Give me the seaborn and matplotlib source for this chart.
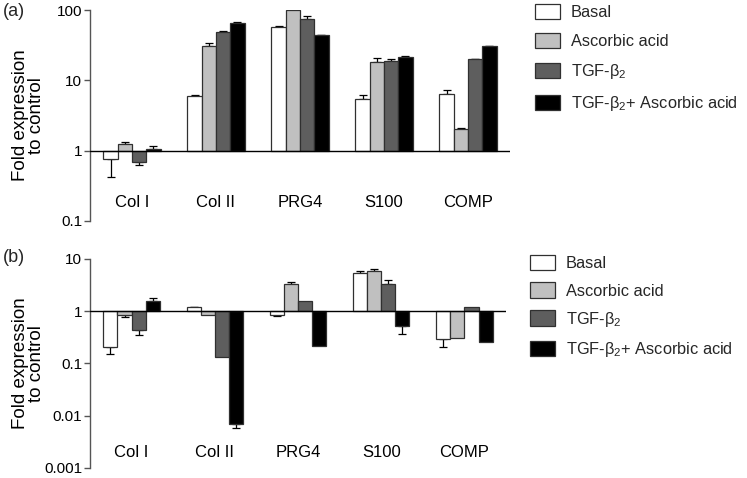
import numpy as np
import pandas as pd
import matplotlib
matplotlib.use("Agg")
import matplotlib.pyplot as plt
import matplotlib.patches as mpatches
import seaborn as sns

# ---------------- data (fold expression to control) ----------------
categories = ["Col I", "Col II", "PRG4", "S100", "COMP"]
treatments = ["Basal", "Ascorbic acid", "TGF-β$_2$", "TGF-β$_2$+ Ascorbic acid"]

# panel (a)
basal_a = [0.77, 5.9, 56.5, 5.4, 6.3]
ascorbic_a = [1.23, 30.3, 98.6, 18.4, 2.02]
tgf_a = [0.70, 48.6, 74.5, 19.1, 19.8]
combo_a = [1.07, 65.0, 43.5, 21.4, 30.3]
# error-bar end points (a)
basal_a_err = [0.42, 6.2, 60.0, 6.1, 7.2]
ascorbic_a_err = [1.34, 33.8, 99.5, 20.5, 2.1]
tgf_a_err = [0.63, 50.0, 82.0, 20.2, 20.0]
combo_a_err = [1.17, 67.0, 44.8, 21.9, 30.8]

# panel (b)
basal_b = [0.207, 1.18, 0.86, 5.3, 0.29]
ascorbic_b = [0.84, 0.83, 3.33, 6.0, 0.30]
tgf_b = [0.43, 0.133, 1.57, 3.25, 1.19]
combo_b = [1.58, 0.0068, 0.214, 0.51, 0.26]
# error-bar end points (b)
basal_b_err = [0.148, 1.19, 0.80, 5.9, 0.21]
ascorbic_b_err = [0.76, 0.83, 3.65, 6.3, 0.30]
tgf_b_err = [0.35, 0.133, 1.57, 3.98, 1.19]
combo_b_err = [1.80, 0.0057, 0.214, 0.36, 0.26]

ticks_a = [0.1, 1, 10, 100]
tick_labels_a = ["0.1", "1", "10", "100"]
ticks_b = [0.001, 0.01, 0.1, 1, 10]
tick_labels_b = ["0.001", "0.01", "0.1", "1", "10"]

ylabel = "Fold expression\nto control"
panel_labels = ["(a)", "(b)"]

# ---------------- style ----------------
sns.set_theme(style="ticks")
plt.rcParams["font.family"] = ["Liberation Sans", "DejaVu Sans"]
plt.rcParams["mathtext.fontset"] = "custom"
plt.rcParams["mathtext.rm"] = "Liberation Sans"
plt.rcParams["mathtext.it"] = "Liberation Sans:italic"
plt.rcParams["mathtext.bf"] = "Liberation Sans:bold"

colors = ["#ffffff", "#c0c0c0", "#5e5e5e", "#000000"]
edge = "#303030"
spine_col = "#555555"

W, H = 747, 478
fig = plt.figure(figsize=(W / 100, H / 100), dpi=100)
ax_a = fig.add_axes([90 / W, 1 - 221 / H, 420 / W, 211 / H])
ax_b = fig.add_axes([90 / W, 1 - 467.7 / H, 416 / W, 208.7 / H])


def draw(ax, values, errs, ticks, tick_labels, xpad, legend_xy, labelspacing):
    rows = []
    for t, vals in zip(treatments, values):
        for c, v in zip(categories, vals):
            rows.append({"gene": c, "treatment": t, "log_fold": np.log10(v)})
    df = pd.DataFrame(rows)
    sns.barplot(data=df, x="gene", y="log_fold", hue="treatment",
                order=categories, hue_order=treatments, palette=colors,
                saturation=1, width=0.68, gap=0, edgecolor=edge,
                linewidth=0.9, errorbar=None, legend=False, ax=ax, zorder=2)
    # one-sided error bars, pointing away from the baseline
    for cont, vals, es in zip(ax.containers, values, errs):
        for patch, v, e in zip(cont.patches, vals, es):
            xc = patch.get_x() + patch.get_width() / 2
            lv, le = np.log10(v), np.log10(e)
            up = max(le - lv, 0.0)
            lo = max(lv - le, 0.0)
            if up == 0 and lo == 0:
                continue
            ax.errorbar([xc], [lv], yerr=[[lo], [up]], fmt="none",
                        ecolor="black", elinewidth=0.9, capsize=3,
                        capthick=0.9, zorder=1)
    ax.axhline(0, color="black", lw=1.0, zorder=3)
    lt = np.log10(ticks)
    ax.set_ylim(lt[0], lt[-1])
    ax.set_yticks(lt, labels=tick_labels)
    ax.set_xlim(-0.5, len(categories) - 0.5)
    sns.despine(ax=ax, bottom=True)
    ax.spines["left"].set_color(spine_col)
    ax.spines["left"].set_linewidth(1.0)
    ax.tick_params(axis="y", direction="out", length=4, width=1.0,
                   color=spine_col, labelsize=11, pad=1.5, labelcolor="black")
    ax.tick_params(axis="x", length=0, labelsize=12, pad=xpad,
                   labelcolor="black")
    ax.set_xlabel("")
    ax.set_ylabel(ylabel, fontsize=13.5, linespacing=0.95, color="black")
    ax.yaxis.set_label_coords(-45 / (ax.get_position().width * W), 0.5)
    ax.set_facecolor("none")
    handles = [mpatches.Patch(facecolor=c, edgecolor=edge, linewidth=0.9)
               for c in colors]
    ax.legend(handles, treatments, loc="upper left",
              bbox_to_anchor=legend_xy, bbox_transform=fig.transFigure,
              frameon=False, fontsize=11.8, handlelength=1.5,
              handleheight=1.05, handletextpad=0.7,
              labelspacing=labelspacing, borderpad=0, borderaxespad=0)


draw(ax_a, [basal_a, ascorbic_a, tgf_a, combo_a],
     [basal_a_err, ascorbic_a_err, tgf_a_err, combo_a_err],
     ticks_a, tick_labels_a, -18.7, (535 / W, 1 - 4 / H), 0.78)
draw(ax_b, [basal_b, ascorbic_b, tgf_b, combo_b],
     [basal_b_err, ascorbic_b_err, tgf_b_err, combo_b_err],
     ticks_b, tick_labels_b, -16.3, (530 / W, 1 - 255 / H), 0.68)

fig.text(3 / W, 1 - 12 / H, panel_labels[0], fontsize=13, va="center", ha="left")
fig.text(3 / W, 1 - 258 / H, panel_labels[1], fontsize=13, va="center", ha="left")

fig.savefig("out.png", dpi=100, facecolor="white")
